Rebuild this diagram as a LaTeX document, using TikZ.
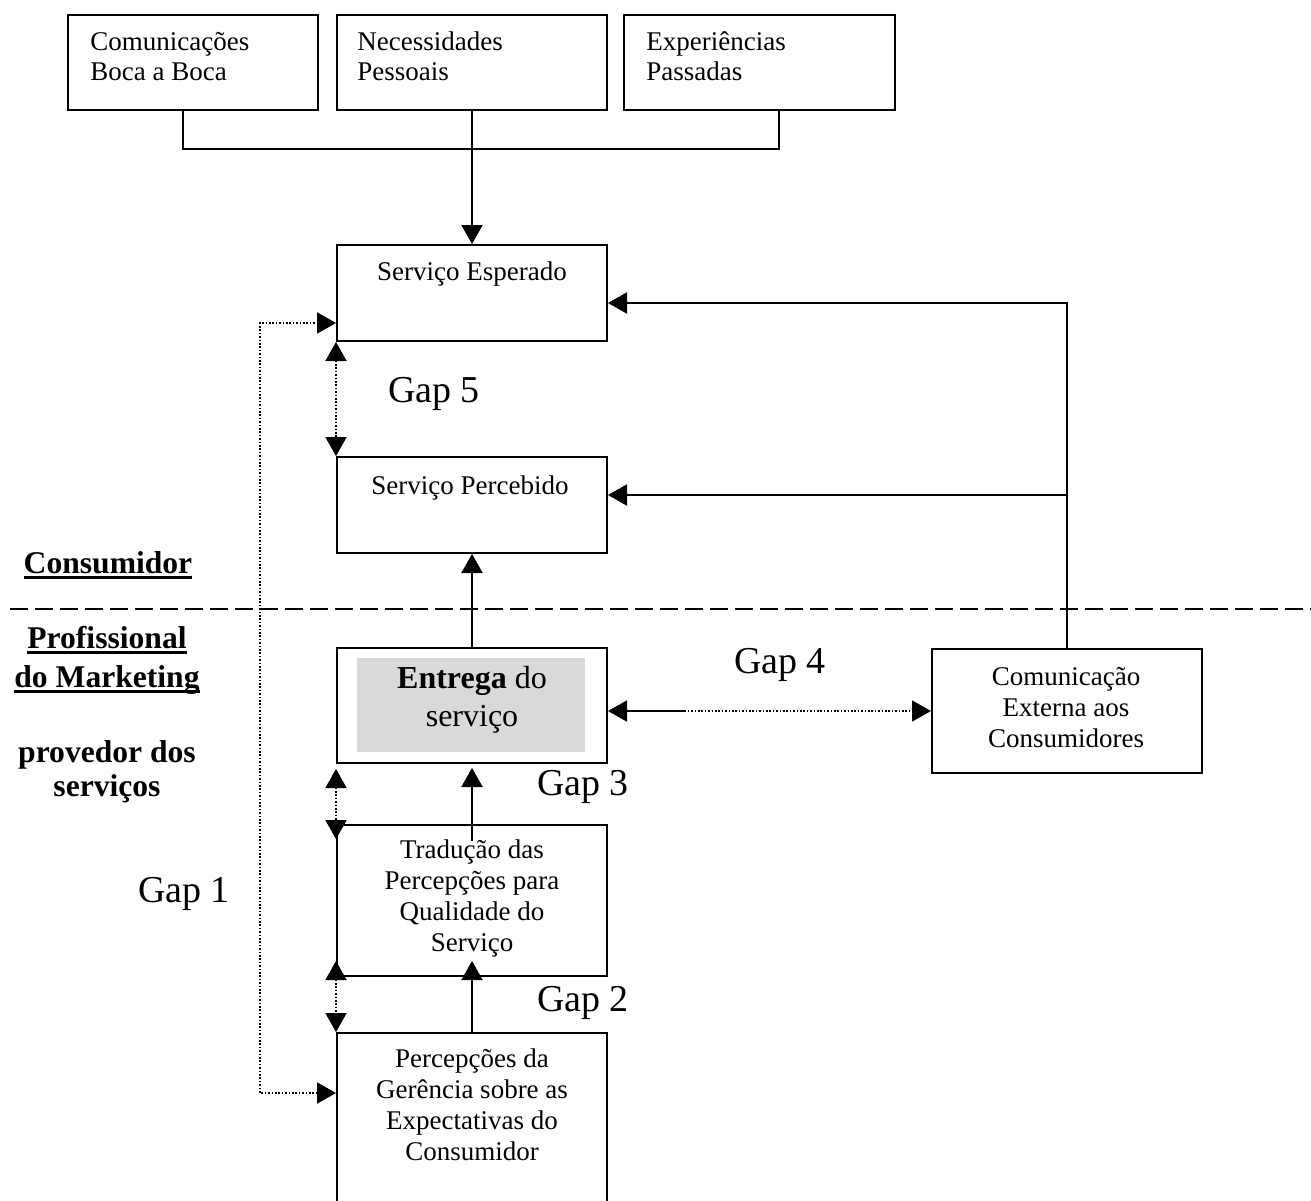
\documentclass[tikz,border=0pt]{standalone}
\usepackage{fontspec}
\setmainfont{Liberation Serif}
\usetikzlibrary{arrows.meta,calc}
\definecolor{entgray}{RGB}{217,217,217}
\newcommand\myul[1]{\setbox0\hbox{#1}\rlap{\rule[-2.8pt]{\wd0}{1.1pt}}\box0}
\begin{document}
\begin{tikzpicture}[x=0.5pt,y=-0.5pt,
  box/.style={draw,line width=1pt,inner sep=0pt,rectangle},
  conn/.style={line width=1pt},
  tip/.tip={Triangle[length=9.5pt,width=10.5pt]},
  arr/.style={line width=1pt,-tip},
  dots/.style={line width=0.9pt,dash pattern=on 0.8pt off 0.9pt},
  darr/.style={dots,tip-tip},
  txt/.style={font=\fontsize{13.5}{15.5}\selectfont,inner sep=0pt,anchor=base},
  txtl/.style={txt,anchor=base west},
  gap/.style={font=\fontsize{19}{22}\selectfont,inner sep=0pt,anchor=base},
  lab/.style={font=\bfseries\fontsize{15.8}{18}\selectfont,inner sep=0pt,anchor=base}]
\useasboundingbox (0,0) rectangle (1311,1200);
% boxes
\node[box,minimum width=125pt,minimum height=47.5pt] (b1) at (193,62.5) {};
\node[box,minimum width=135pt,minimum height=47.5pt] (b2) at (472,62.5) {};
\node[box,minimum width=135.5pt,minimum height=47.5pt] (b3) at (759.5,62.5) {};
\node[box,minimum width=135pt,minimum height=48pt] (esp) at (472,293) {};
\node[box,minimum width=135pt,minimum height=48pt] (per) at (472,505) {};
\node[box,minimum width=135pt,minimum height=57.5pt] (ent) at (472,705.5) {};
\node[fill=entgray,inner sep=0pt,minimum width=114pt,minimum height=47pt] (entbg) at (471,705) {};
\node[box,minimum width=135pt,minimum height=62pt] (com) at (1067,711) {};
\node[box,minimum width=135pt,minimum height=75.5pt] (tra) at (472,900.5) {};
\node[box,minimum width=135pt,minimum height=91pt] (ger) at (472,1124) {};
% texts
\node[txtl] (t1a) at (90,50) {Comunicações};
\node[txtl] (t1b) at (90,80) {Boca a Boca};
\node[txtl] (t2a) at (357,50) {Necessidades};
\node[txtl] (t2b) at (357,80) {Pessoais};
\node[txtl] (t3a) at (646,50) {Experiências};
\node[txtl] (t3b) at (646,80) {Passadas};
\node[txt] (tesp) at (472,280) {Serviço Esperado};
\node[txt] (tper) at (470,494) {Serviço Percebido};
\node[txt,font=\fontsize{16}{19}\selectfont] (tent1) at (472,688) {\textbf{Entrega} do};
\node[txt,font=\fontsize{16}{19}\selectfont] (tent2) at (472,726) {serviço};
\node[txt] (tcom1) at (1066,685) {Comunicação};
\node[txt] (tcom2) at (1066,716) {Externa aos};
\node[txt] (tcom3) at (1066,747) {Consumidores};
\node[txt] (ttra1) at (472,858) {Tradução das};
\node[txt] (ttra2) at (472,889) {Percepções para};
\node[txt] (ttra3) at (472,920) {Qualidade do};
\node[txt] (ttra4) at (472,951) {Serviço};
\node[txt] (tger1) at (472,1067) {Percepções da};
\node[txt] (tger2) at (472,1098) {Gerência sobre as};
\node[txt] (tger3) at (472,1129) {Expectativas do};
\node[txt] (tger4) at (472,1160) {Consumidor};
% gap labels
\node[gap] (g5) at (434,402) {Gap 5};
\node[gap] (g4) at (780,673) {Gap 4};
\node[gap] (g3) at (583,795) {Gap 3};
\node[gap] (g2) at (583,1011) {Gap 2};
\node[gap] (g1) at (184,902) {Gap 1};
% side labels
\node[lab] (lcons) at (108,573) {\myul{Consumidor}};
\node[lab] (lprof1) at (107,648) {\myul{Profissional}};
\node[lab] (lprof2) at (107,687) {\myul{do Marketing}};
\node[lab] (lprov1) at (107,762) {provedor dos};
\node[lab] (lprov2) at (107,796) {serviços};
% dashed divider
\coordinate (dl) at (10,609);
\coordinate (dr) at (1311,609);
\draw[line width=1pt,dash pattern=on 9pt off 3.5pt] (dl) -- (dr);
% top connectors
\coordinate (jl) at (183,149);
\coordinate (jr) at (779,149);
\draw[conn] (b1.south -| jl) -- (jl) -- (jr) -- (b3.south -| jr);
\draw[arr] (b2.south) -- (esp.north);
% feedback from external communication
\coordinate (jp) at (1067,495);
\draw[arr] (com.north) |- ($(esp.east)+(0,10)$);
\draw[arr] (jp) -- (per.east |- jp);
% vertical solid arrows
\draw[arr] (ent.north) -- (per.south);
\draw[arr] ($(tra.north)+(0,17)$) -- ($(ent.south)+(0,4)$);
\draw[arr] (ger.north) -- ($(tra.south)+(0,-16)$);
% dotted gap arrows
\draw[darr] (esp.south west) -- (per.north west);
\draw[darr] ($(ent.south west)+(0,5)$) -- ($(tra.north west)+(0,15)$);
\draw[darr] ($(tra.south west)+(0,-16)$) -- (ger.north west);
\coordinate (g1a) at (260,323);
\coordinate (g1b) at (260,1093);
\draw[darr] (ger.west |- g1b) -- (g1b) -- (g1a) -- (esp.west |- g1a);
\draw[darr] (ent.east |- com.west) -- (com.west);
\draw[line width=0.6pt] ($(ent.east |- com.west)+(18,0)$) -- ($(ent.east |- com.west)+(78,0)$);
\end{tikzpicture}
\end{document}
